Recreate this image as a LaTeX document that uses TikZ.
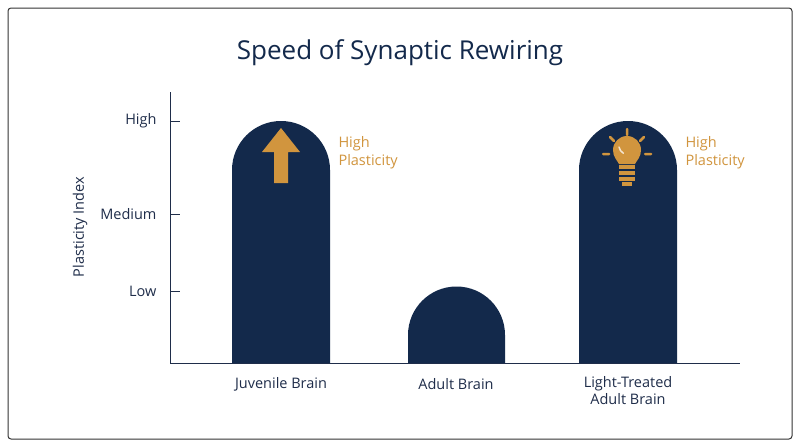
\documentclass[tikz,border=0pt]{standalone}
\usepackage{fontspec}
\setmainfont{Open Sans}
\begin{document}
\begin{tikzpicture}[x=1pt,y=-1pt,
  lbl/.style={font=\fontsize{14.5}{17}\selectfont,text=axc},
  hp/.style={font=\fontsize{14.5}{18}\selectfont,text=orc,align=left,anchor=west},
  ax/.style={draw=axc,line width=1pt}]
\definecolor{barc}{HTML}{13294B}
\definecolor{axc}{HTML}{1F2D4A}
\definecolor{orc}{HTML}{D1953E}
\useasboundingbox (0,0) rectangle (800,447);
\fill[white] (0,0) rectangle (800,447);
\draw[black!80,line width=1pt,rounded corners=3pt] (8,8) rectangle (792,439);
\node[font=\fontsize{26}{30}\selectfont,text=barc] (title) at (400,53) {Speed of Synaptic Rewiring};
% bars
\fill[barc] (232,363) -- (232,170) arc[start angle=180,end angle=360,radius=49] -- (330,363) -- cycle;
\fill[barc] (408,363) -- (408,335) arc[start angle=180,end angle=360,radius=48.5] -- (505,363) -- cycle;
\fill[barc] (579,363) -- (579,170) arc[start angle=180,end angle=360,radius=49] -- (677,363) -- cycle;
% axes
\coordinate (o) at (170,363);
\coordinate (top) at (170,92);
\coordinate (xe) at (740,363);
\draw[ax] (top) -- (o) -- (xe);
\foreach \yy/\t in {121/High,214/Medium,291/Low}{
  \draw[ax] (170,\yy) -- (180,\yy);
  \node[lbl,anchor=east] at (160,\yy) {\t};
}
\node[lbl,rotate=90] (yl) at (80,227) {Plasticity Index};
\node[lbl] (l1) at (281,384) {Juvenile Brain};
\node[lbl] (l2) at (456,384) {Adult Brain};
\node[lbl,align=center,anchor=north] (l3) at (628,373) {Light-Treated\\Adult Brain};
% arrow
\fill[orc] (274,183) -- (274,152) -- (262,152) -- (281,128) -- (300,152) -- (288,152) -- (288,183) -- cycle;
\node[hp] (h1) at (335,153) {High\\Plasticity};
\node[hp] (h2) at (682,153) {High\\Plasticity};
% bulb
\fill[orc] (619,164) .. controls (617,160) and (613,157) .. (613,150) arc[start angle=180,end angle=360,radius=14] .. controls (641,157) and (637,160) .. (635,164) -- cycle;
\draw[white!75!orc,line width=1.5pt,line cap=round] (619,147) arc[start angle=170,end angle=120,radius=9];
\foreach \yy in {167,173,179}{\fill[orc] (619,\yy-2) rectangle (635,\yy+1.5);}
\fill[orc] (622,182) rectangle (632,186);
\draw[orc,line width=2.5pt,line cap=round]
  (627,129) -- (627,135) (610,137) -- (614,141) (644,137) -- (640,141)
  (603,154) -- (609,154) (645,154) -- (651,154);
\end{tikzpicture}
\end{document}
